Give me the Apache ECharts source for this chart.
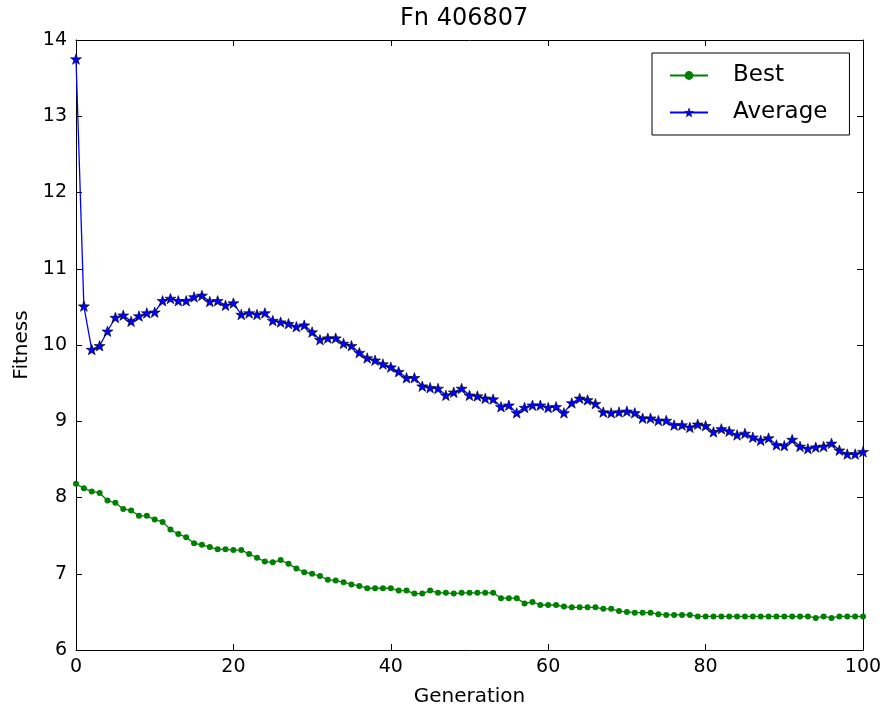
<!DOCTYPE html>
<html>
<head>
<meta charset="utf-8">
<title>Fn 406807</title>
<script src="https://cdn.jsdelivr.net/npm/echarts@6/dist/echarts.min.js"></script>
<style>
  html, body { margin: 0; padding: 0; background: #fff; }
  #chart { width: 886px; height: 712px; }
</style>
</head>
<body>
<div id="chart"></div>
<script>
const xTicks = [0, 20, 40, 60, 80, 100];
const yTicks = [6, 7, 8, 9, 10, 11, 12, 13, 14];

// fitness per generation (0..100)
const best = [
  8.18, 8.12, 8.08, 8.06, 7.96, 7.93, 7.85, 7.83, 7.76, 7.76,
  7.71, 7.68, 7.58, 7.52, 7.48, 7.40, 7.38, 7.35, 7.32, 7.32,
  7.31, 7.31, 7.26, 7.21, 7.16, 7.15, 7.18, 7.13, 7.07, 7.02,
  7.00, 6.97, 6.92, 6.91, 6.89, 6.86, 6.84, 6.81, 6.81, 6.81,
  6.81, 6.78, 6.78, 6.74, 6.74, 6.78, 6.75, 6.75, 6.74, 6.75,
  6.75, 6.75, 6.75, 6.75, 6.68, 6.68, 6.68, 6.61, 6.63, 6.59,
  6.59, 6.59, 6.57, 6.56, 6.56, 6.56, 6.56, 6.54, 6.54, 6.51,
  6.50, 6.49, 6.49, 6.49, 6.47, 6.46, 6.46, 6.46, 6.46, 6.44,
  6.44, 6.44, 6.44, 6.44, 6.44, 6.44, 6.44, 6.44, 6.44, 6.44,
  6.44, 6.44, 6.44, 6.44, 6.42, 6.44, 6.42, 6.44, 6.44, 6.44,
  6.44
];

const average = [
  13.75, 10.51, 9.94, 9.99, 10.18, 10.36, 10.39, 10.31, 10.38, 10.42,
  10.43, 10.58, 10.61, 10.58, 10.58, 10.63, 10.65, 10.57, 10.58, 10.52,
  10.55, 10.40, 10.42, 10.40, 10.42, 10.32, 10.30, 10.28, 10.24, 10.26,
  10.17, 10.07, 10.09, 10.09, 10.02, 9.99, 9.90, 9.83, 9.80, 9.75,
  9.71, 9.65, 9.57, 9.57, 9.46, 9.44, 9.43, 9.34, 9.38, 9.43,
  9.34, 9.33, 9.30, 9.29, 9.19, 9.21, 9.11, 9.18, 9.21, 9.21,
  9.18, 9.19, 9.11, 9.24, 9.30, 9.28, 9.23, 9.12, 9.11, 9.12,
  9.13, 9.11, 9.04, 9.04, 9.01, 9.01, 8.95, 8.95, 8.92, 8.96,
  8.94, 8.86, 8.90, 8.87, 8.82, 8.84, 8.79, 8.75, 8.78, 8.69,
  8.68, 8.76, 8.67, 8.64, 8.66, 8.67, 8.71, 8.62, 8.57, 8.57,
  8.60
];

const FONT = 'DejaVu Sans';
const STAR = 'path://M0,-10L2.35,-3.24L9.51,-3.09L3.8,1.24L5.88,8.09L0,4L-5.88,8.09L-3.8,1.24L-9.51,-3.09L-2.35,-3.24Z';

const baseAxis = {
  type: 'value',
  axisLine: { show: true, onZero: false, lineStyle: { color: '#000', width: 1 } },
  axisTick: { show: true, inside: true, length: 6, lineStyle: { color: '#000' } },
  splitLine: { show: false },
  axisLabel: { color: '#000', fontSize: 19, fontFamily: FONT }
};

const getOption = () => {
  return {
    animation: false,
    backgroundColor: '#fff',
    title: {
      text: 'Fn 406807',
      left: 400,
      top: 7,
      padding: 0,
      textStyle: { color: '#000', fontSize: 24, fontWeight: 'normal', fontFamily: FONT }
    },
    legend: {
      orient: 'vertical',
      left: 652,
      top: 53,
      padding: [11, 22, 11, 17],
      itemGap: 14,
      itemWidth: 38,
      itemHeight: 11,
      borderColor: '#000',
      borderWidth: 1,
      borderRadius: 0,
      backgroundColor: '#fff',
      textStyle: { color: '#000', fontSize: 23, fontFamily: FONT, padding: [0, 0, 0, 20] },
      data: [
        { name: 'Best', itemStyle: { color: '#008000', borderWidth: 0 } },
        { name: 'Average', itemStyle: { color: '#0000ff', borderColor: '#000', borderWidth: 0.5 } }
      ]
    },
    grid: { left: 76, right: 23, top: 40, bottom: 62 },
    xAxis: [
      Object.assign({}, baseAxis, {
        min: xTicks[0], max: xTicks[xTicks.length - 1], interval: 20,
        position: 'bottom',
        axisLabel: Object.assign({}, baseAxis.axisLabel, { margin: 8 }),
        name: 'Generation',
        nameLocation: 'middle',
        nameGap: 37,
        nameTextStyle: { color: '#000', fontSize: 20, fontFamily: FONT }
      }),
      Object.assign({}, baseAxis, {
        min: xTicks[0], max: xTicks[xTicks.length - 1], interval: 20,
        position: 'top',
        axisLabel: { show: false }
      })
    ],
    yAxis: [
      Object.assign({}, baseAxis, {
        min: yTicks[0], max: yTicks[yTicks.length - 1], interval: 1,
        position: 'left',
        axisLabel: Object.assign({}, baseAxis.axisLabel, { margin: 9 }),
        name: 'Fitness',
        nameLocation: 'middle',
        nameGap: 44,
        nameRotate: 90,
        nameTextStyle: { color: '#000', fontSize: 20, fontFamily: FONT }
      }),
      Object.assign({}, baseAxis, {
        min: yTicks[0], max: yTicks[yTicks.length - 1], interval: 1,
        position: 'right',
        axisLabel: { show: false }
      })
    ],
    series: [
      {
        name: 'Best',
        type: 'line',
        xAxisIndex: 0,
        yAxisIndex: 0,
        data: best.map((v, i) => [i, v]),
        symbol: 'circle',
        symbolSize: 6,
        showAllSymbol: true,
        lineStyle: { color: '#008000', width: 1.3 },
        itemStyle: { color: '#008000' },
        z: 3
      },
      {
        name: 'Average',
        type: 'line',
        xAxisIndex: 0,
        yAxisIndex: 0,
        data: average.map((v, i) => [i, v]),
        symbol: STAR,
        symbolSize: 11,
        symbolKeepAspect: true,
        showAllSymbol: true,
        lineStyle: { color: '#0000ff', width: 1.3 },
        itemStyle: { color: '#0000ff', borderColor: '#000', borderWidth: 0.6 },
        z: 3
      }
    ]
  };
};

let chart;
document.addEventListener('DOMContentLoaded', function () {
  chart = echarts.init(document.getElementById('chart'));
  chart.setOption(getOption());
});

window.addEventListener('resize', function () {
  chart.resize();
});
</script>
</body>
</html>
